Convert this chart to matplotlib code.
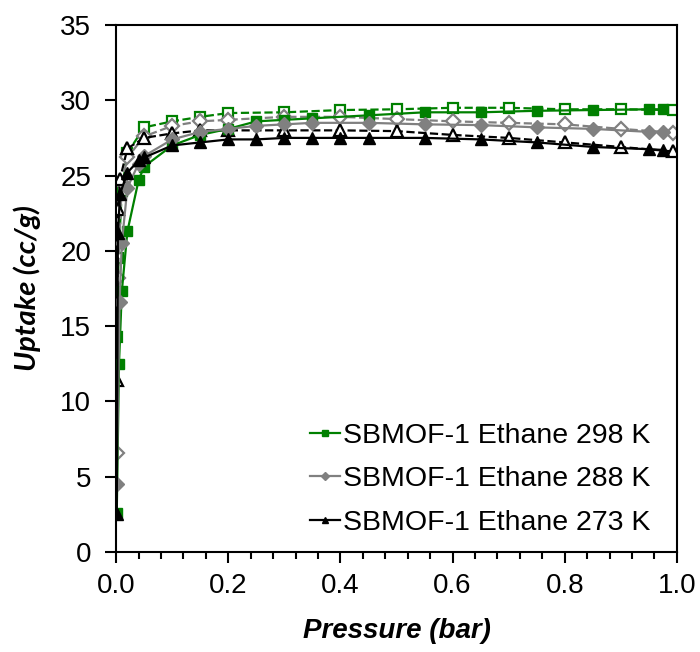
import numpy as np
import matplotlib
matplotlib.use('Agg')
import matplotlib.pyplot as plt
from matplotlib import ticker

plt.rcParams['font.family'] = ['Liberation Sans', 'DejaVu Sans']

# 298 K (green squares)
p_ads_298 = [0.001, 0.005, 0.01, 0.02, 0.04, 0.05, 0.10, 0.15, 0.20, 0.25, 0.30, 0.35,
             0.45, 0.55, 0.65, 0.75, 0.85, 0.95, 0.975]
q_ads_298 = [2.6, 12.5, 17.3, 21.3, 24.7, 25.6, 27.0, 27.7, 28.1, 28.6, 28.7, 28.8,
             29.0, 29.2, 29.2, 29.3, 29.35, 29.4, 29.4]
p_des_298 = [0.993, 0.90, 0.80, 0.70, 0.60, 0.50, 0.40, 0.30, 0.20, 0.15, 0.10, 0.05,
             0.02, 0.01, 0.004, 0.002]
q_des_298 = [29.35, 29.4, 29.4, 29.5, 29.5, 29.4, 29.35, 29.2, 29.15, 28.9, 28.6, 28.2,
             26.5, 24.0, 19.5, 14.3]

# 288 K (gray diamonds)
p_ads_288 = [0.001, 0.006, 0.01, 0.02, 0.04, 0.05, 0.10, 0.15, 0.20, 0.25, 0.30, 0.35,
             0.45, 0.55, 0.65, 0.75, 0.85, 0.95, 0.975]
q_ads_288 = [4.5, 16.6, 20.5, 24.2, 25.8, 26.3, 27.4, 27.9, 28.1, 28.3, 28.4, 28.5,
             28.5, 28.4, 28.35, 28.2, 28.1, 27.9, 27.9]
p_des_288 = [0.993, 0.90, 0.80, 0.70, 0.60, 0.50, 0.40, 0.30, 0.20, 0.15, 0.10, 0.05,
             0.02, 0.01, 0.003, 0.001]
q_des_288 = [27.85, 28.1, 28.4, 28.5, 28.6, 28.75, 28.9, 28.9, 28.7, 28.6, 28.3, 27.6,
             26.2, 24.5, 18.2, 6.6]

# 273 K (black triangles)
p_ads_273 = [0.001, 0.003, 0.007, 0.02, 0.04, 0.05, 0.10, 0.15, 0.20, 0.25, 0.30, 0.35,
             0.40, 0.45, 0.55, 0.65, 0.75, 0.85, 0.95, 0.975]
q_ads_273 = [2.5, 21.2, 23.8, 25.2, 26.0, 26.2, 27.0, 27.2, 27.4, 27.4, 27.5, 27.5,
             27.5, 27.5, 27.5, 27.4, 27.2, 26.9, 26.75, 26.7]
p_des_273 = [0.993, 0.90, 0.80, 0.70, 0.60, 0.50, 0.40, 0.30, 0.20, 0.15, 0.10, 0.05,
             0.02, 0.007, 0.003, 0.001]
q_des_273 = [26.6, 26.9, 27.2, 27.5, 27.7, 27.95, 28.0, 28.0, 28.0, 28.0, 27.8, 27.5,
             26.8, 24.8, 22.8, 11.4]

labels = ['SBMOF-1 Ethane 298 K', 'SBMOF-1 Ethane 288 K', 'SBMOF-1 Ethane 273 K']

fig = plt.figure(figsize=(7, 6.52), dpi=100)
ax = fig.add_axes([0.166, 0.1534, 0.801, 0.8083])

series = [
    (p_ads_298, q_ads_298, p_des_298, q_des_298, '#008000', 's', 7.5),
    (p_ads_288, q_ads_288, p_des_288, q_des_288, '#808080', 'D', 7),
    (p_ads_273, q_ads_273, p_des_273, q_des_273, 'black', '^', 9),
]

handles = []
for (pa, qa, pd, qd, c, m, ms), lab in zip(series, labels):
    ax.plot(pd, qd, '--', color=c, lw=1.6, marker=m, ms=ms, mfc='white',
            mec=c, mew=1.6, zorder=2)
    h, = ax.plot(pa, qa, '-', color=c, lw=1.6, marker=m, ms=ms, mfc=c,
                 mec=c, zorder=3)
    handles.append(h)

leg = ax.legend(handles, labels, loc='lower left', bbox_to_anchor=(0.30, -0.018),
                frameon=False, fontsize=20.5, handlelength=1.05, handletextpad=0.12,
                markerscale=0.55, labelspacing=0.62)

ax.set_xlim(0, 1.0)
ax.set_ylim(0, 35)
ax.xaxis.set_major_locator(ticker.MultipleLocator(0.2))
ax.xaxis.set_minor_locator(ticker.MultipleLocator(0.04))
ax.xaxis.set_major_formatter(ticker.FormatStrFormatter('%.1f'))
ax.yaxis.set_major_locator(ticker.MultipleLocator(5))

ax.tick_params(axis='both', which='major', direction='out', length=8, width=1.5,
               labelsize=20)
ax.tick_params(axis='y', which='major', pad=10)
ax.tick_params(axis='x', which='major', pad=7)
ax.tick_params(axis='x', which='minor', direction='out', length=5, width=1.5)
for sp in ax.spines.values():
    sp.set_linewidth(1.5)

ax.set_xlabel('Pressure (bar)', fontsize=20, fontweight='bold', style='italic',
              labelpad=14)
ax.set_ylabel('Uptake (cc/g)', fontsize=21, fontweight='bold', style='italic',
              family=['Lato', 'Liberation Sans'], labelpad=14)

fig.savefig('out.png', dpi=100)
